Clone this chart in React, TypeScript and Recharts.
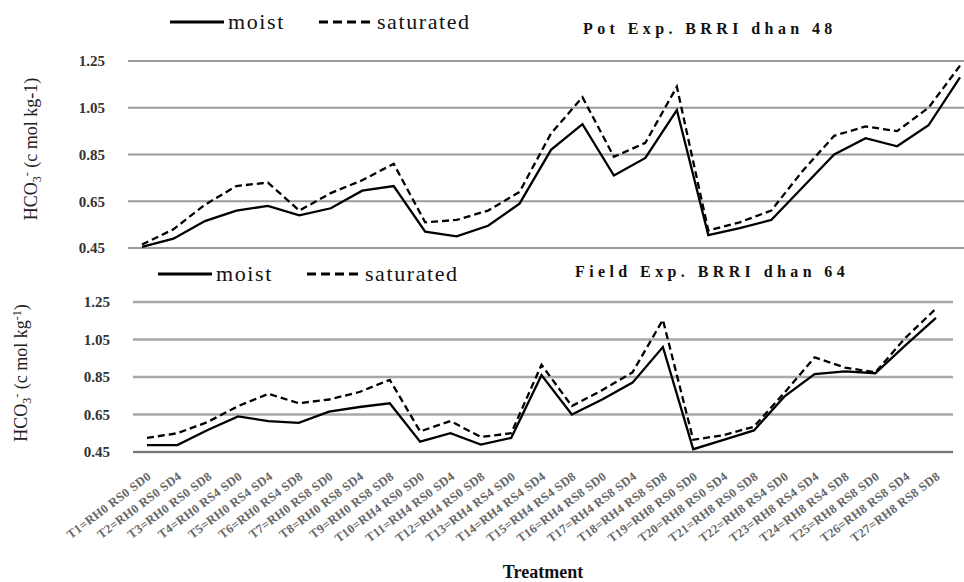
import { LineChart, Line, XAxis, YAxis, CartesianGrid, Legend } from 'recharts';

const treatments = [
  'T1=RH0 RS0 SD0', 'T2=RH0 RS0 SD4', 'T3=RH0 RS0 SD8',
  'T4=RH0 RS4 SD0', 'T5=RH0 RS4 SD4', 'T6=RH0 RS4 SD8',
  'T7=RH0 RS8 SD0', 'T8=RH0 RS8 SD4', 'T9=RH0 RS8 SD8',
  'T10=RH4 RS0 SD0', 'T11=RH4 RS0 SD4', 'T12=RH4 RS0 SD8',
  'T13=RH4 RS4 SD0', 'T14=RH4 RS4 SD4', 'T15=RH4 RS4 SD8',
  'T16=RH4 RS8 SD0', 'T17=RH4 RS8 SD4', 'T18=RH4 RS8 SD8',
  'T19=RH8 RS0 SD0', 'T20=RH8 RS0 SD4', 'T21=RH8 RS0 SD8',
  'T22=RH8 RS4 SD0', 'T23=RH8 RS4 SD4', 'T24=RH8 RS4 SD8',
  'T25=RH8 RS8 SD0', 'T26=RH8 RS8 SD4', 'T27=RH8 RS8 SD8',
];

// Pot Exp. BRRI dhan 48
const potMoist = [
  0.455, 0.49, 0.565, 0.61, 0.63, 0.59, 0.62, 0.695, 0.715,
  0.52, 0.5, 0.545, 0.64, 0.87, 0.98, 0.76, 0.835, 1.04,
  0.505, 0.535, 0.57, 0.71, 0.85, 0.92, 0.885, 0.975, 1.18,
];
const potSaturated = [
  0.465, 0.53, 0.635, 0.715, 0.73, 0.61, 0.685, 0.74, 0.81,
  0.56, 0.57, 0.61, 0.69, 0.94, 1.095, 0.84, 0.9, 1.14,
  0.525, 0.56, 0.61, 0.78, 0.93, 0.97, 0.95, 1.05, 1.23,
];

// Field Exp. BRRI dhan 64
const fieldMoist = [
  0.487, 0.487, 0.567, 0.64, 0.615, 0.605, 0.665, 0.69, 0.71,
  0.505, 0.55, 0.49, 0.525, 0.86, 0.65, 0.73, 0.82, 1.01,
  0.465, 0.515, 0.565, 0.745, 0.865, 0.88, 0.87, 1.02, 1.165,
];
const fieldSaturated = [
  0.525, 0.55, 0.61, 0.695, 0.76, 0.71, 0.73, 0.77, 0.835,
  0.56, 0.615, 0.53, 0.55, 0.915, 0.695, 0.78, 0.875, 1.155,
  0.515, 0.54, 0.585, 0.765, 0.955, 0.9, 0.875, 1.06, 1.215,
];

const yTicks = [0.45, 0.65, 0.85, 1.05, 1.25];

const potData = treatments.map((t, i) => ({ t, moist: potMoist[i], saturated: potSaturated[i] }));
const fieldData = treatments.map((t, i) => ({ t, moist: fieldMoist[i], saturated: fieldSaturated[i] }));

const SERIF = '"Liberation Serif", "Times New Roman", serif';
const DASH = '7 4';

function LegendRow({ payload }: any) {
  return (
    <div style={{ display: 'flex', alignItems: 'center', fontFamily: SERIF, fontSize: 22, letterSpacing: 1.6, color: '#111' }}>
      {(payload || []).map((p: any, i: number) => (
        <div key={p.value} style={{ display: 'flex', alignItems: 'center', marginLeft: i ? 34 : 0 }}>
          <svg width={54} height={6}>
            <line x1={0} y1={3} x2={54} y2={3} stroke="#000" strokeWidth={3}
              strokeDasharray={p.payload?.strokeDasharray ? '9 5' : undefined} />
          </svg>
          <span style={{ marginLeft: 4, lineHeight: '22px' }}>{p.value}</span>
        </div>
      ))}
    </div>
  );
}

function YTitle({ cx, cy, supUnit }: { cx: number; cy: number; supUnit: boolean }) {
  return (
    <text x={cx} y={cy} transform={`rotate(-90, ${cx}, ${cy})`} textAnchor="middle"
      fontFamily={SERIF} fontSize={18} fill="#222">
      <tspan>HCO</tspan>
      <tspan fontSize={12} dy={4}>3</tspan>
      <tspan fontSize={12} dy={-10}>-</tspan>
      {supUnit ? (
        <>
          <tspan dy={6}> (c mol kg</tspan>
          <tspan fontSize={12} dy={-6}>-1</tspan>
          <tspan dy={6}>)</tspan>
        </>
      ) : (
        <tspan dy={6}> (c mol kg-1)</tspan>
      )}
    </text>
  );
}

function TreatmentTick({ x, y, payload }: any) {
  return (
    <g transform={`translate(${x + 5}, ${y + 18})`}>
      <text x={0} y={0} transform="rotate(-37)" textAnchor="end" fontFamily={SERIF}
        fontSize={12.5} letterSpacing={0.3} fontWeight="bold" fill="#666">
        {payload.value}
      </text>
    </g>
  );
}

const tickStyle = { fontFamily: SERIF, fontSize: 15, fontWeight: 'bold', fill: '#333' } as const;
const titleStyle = { position: 'absolute', fontFamily: SERIF, fontWeight: 'bold', fontSize: 16, letterSpacing: 4.4, color: '#111', whiteSpace: 'nowrap' } as const;

export default function App() {
  return (
    <div style={{ position: 'absolute', left: 0, top: 0, width: 964, height: 582, overflow: 'hidden', background: '#fff' }}>
      <div style={{ ...titleStyle, left: 583, top: 20 }}>Pot Exp. BRRI dhan 48</div>
      <div style={{ ...titleStyle, left: 575, top: 263 }}>Field Exp. BRRI dhan 64</div>

      <div style={{ position: 'absolute', left: 0, top: 0 }}>
        <LineChart width={990} height={262} data={potData} margin={{ top: 61, right: 15, bottom: 14, left: 0 }}>
          <CartesianGrid vertical={false} stroke="#9a9a9a" strokeWidth={2} />
          <XAxis dataKey="t" hide padding={{ left: 14, right: 15 }} />
          <YAxis domain={[0.45, 1.25]} ticks={yTicks} width={128} axisLine={false} tickLine={false}
            tickSize={6} tickMargin={17} tick={tickStyle} tickFormatter={(v) => v.toFixed(2)}
            label={{ content: () => <YTitle cx={37} cy={149} supUnit={false} /> }} />
          <Legend layout="vertical" align="center" verticalAlign="middle" content={<LegendRow />}
            wrapperStyle={{ top: 11, left: 170, width: 'auto', height: 'auto' }} />
          <Line dataKey="moist" name="moist" stroke="#000" strokeWidth={2.3} dot={false} isAnimationActive={false} />
          <Line dataKey="saturated" name="saturated" stroke="#000" strokeWidth={2.3} strokeDasharray={DASH} dot={false} isAnimationActive={false} />
        </LineChart>
      </div>

      <div style={{ position: 'absolute', left: 0, top: 250 }}>
        <LineChart width={964} height={332} data={fieldData} margin={{ top: 52, right: 11, bottom: 0, left: 0 }}>
          <CartesianGrid vertical={false} stroke="#a8a8a8" strokeWidth={2.5} />
          <XAxis dataKey="t" interval={0} height={130} axisLine={{ stroke: '#777', strokeWidth: 2 }} tickLine={false}
            padding={{ left: 14, right: 17 }} tick={<TreatmentTick />}
            label={{ value: 'Treatment', position: 'insideBottom', offset: 4, fontFamily: SERIF, fontSize: 18, fontWeight: 'bold', fill: '#111' }} />
          <YAxis domain={[0.45, 1.25]} ticks={yTicks} width={133} axisLine={false} tickLine={false}
            tickSize={6} tickMargin={17} tick={tickStyle} tickFormatter={(v) => v.toFixed(2)}
            label={{ content: () => <YTitle cx={27} cy={123} supUnit={true} /> }} />
          <Legend layout="vertical" align="center" verticalAlign="middle" content={<LegendRow />}
            wrapperStyle={{ top: 13, left: 158, width: 'auto', height: 'auto' }} />
          <Line dataKey="moist" name="moist" stroke="#000" strokeWidth={2.3} dot={false} isAnimationActive={false} />
          <Line dataKey="saturated" name="saturated" stroke="#000" strokeWidth={2.3} strokeDasharray={DASH} dot={false} isAnimationActive={false} />
        </LineChart>
      </div>
    </div>
  );
}
